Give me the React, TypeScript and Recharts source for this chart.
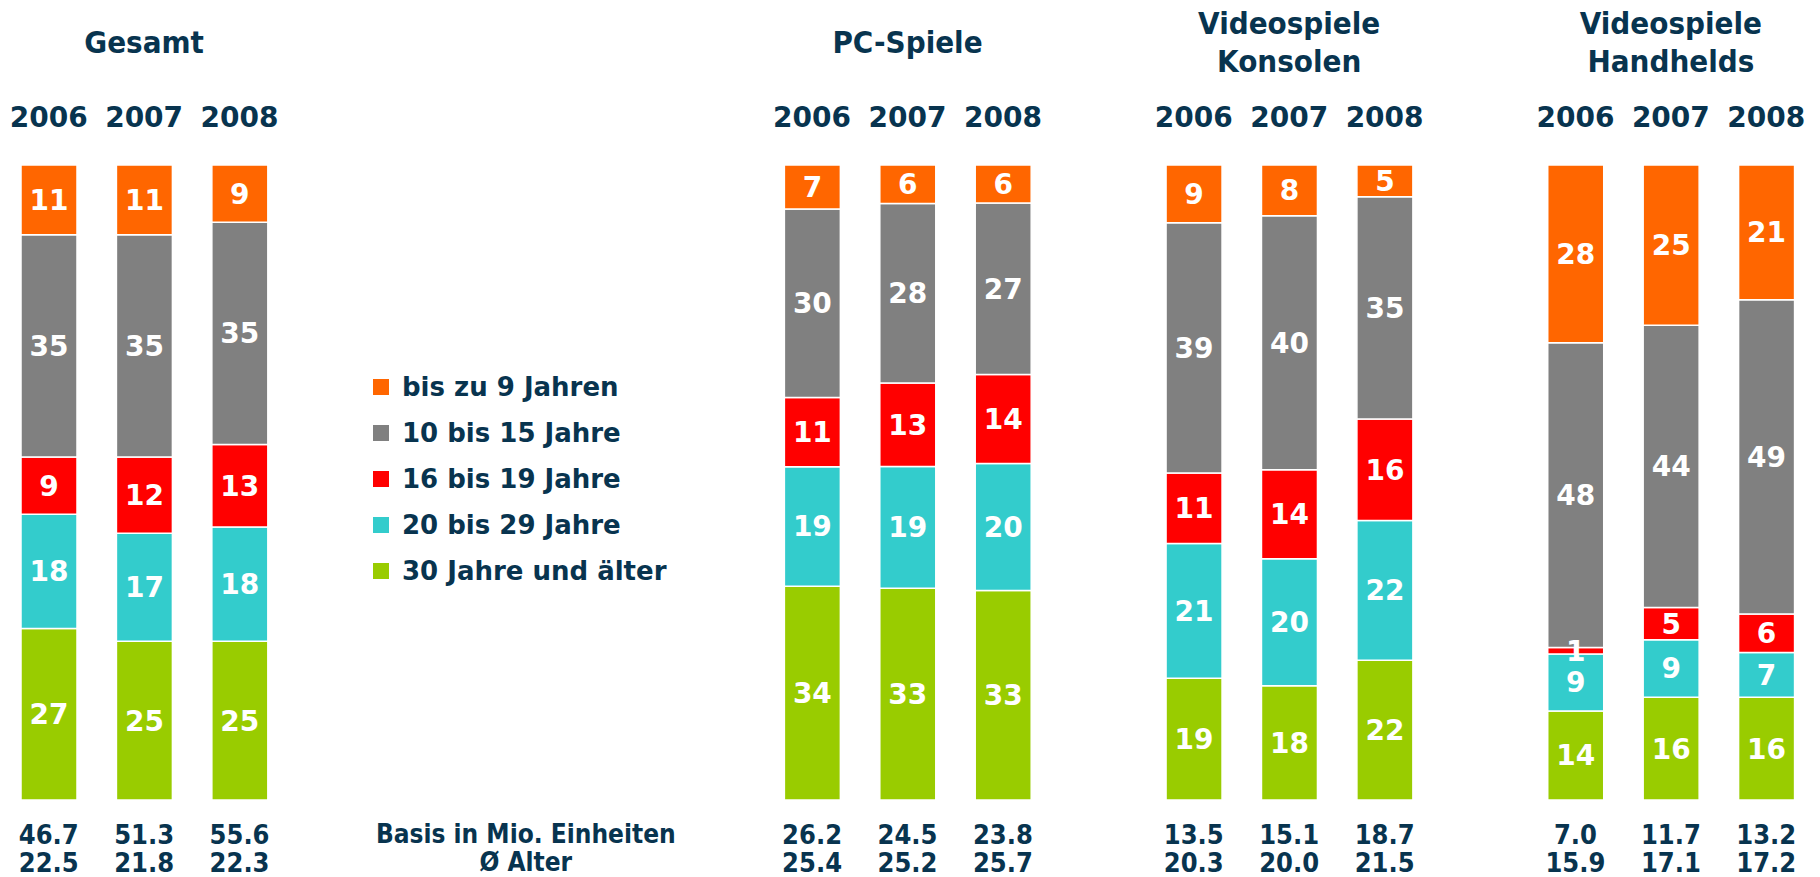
import React from 'react';
import { BarChart, Bar, XAxis, YAxis, LabelList, Legend } from 'recharts';

const NAVY = '#08344f';
const COND = "'DejaVu Sans Condensed', 'DejaVu Sans', sans-serif";
const WIDE = "'DejaVu Sans', sans-serif";

const years = ['2006', '2007', '2008'];
const groupTitles = ['Gesamt', 'PC-Spiele', 'Videospiele\nKonsolen', 'Videospiele\nHandhelds'];
const seriesNames = ['bis zu 9 Jahren', '10 bis 15 Jahre', '16 bis 19 Jahre', '20 bis 29 Jahre', '30 Jahre und älter'];
const seriesColors = ['#FF6600', '#808080', '#FF0000', '#33CCCC', '#99CC00'];

const under9 = [11, 11, 9, 7, 6, 6, 9, 8, 5, 28, 25, 21];
const age10to15 = [35, 35, 35, 30, 28, 27, 39, 40, 35, 48, 44, 49];
const age16to19 = [9, 12, 13, 11, 13, 14, 11, 14, 16, 1, 5, 6];
const age20to29 = [18, 17, 18, 19, 19, 20, 21, 20, 22, 9, 9, 7];
const age30plus = [27, 25, 25, 34, 33, 33, 19, 18, 22, 14, 16, 16];
const basis = [46.7, 51.3, 55.6, 26.2, 24.5, 23.8, 13.5, 15.1, 18.7, 7.0, 11.7, 13.2];
const avgAge = [22.5, 21.8, 22.3, 25.4, 25.2, 25.7, 20.3, 20.0, 21.5, 15.9, 17.1, 17.2];
const basisCaption = ['Basis in Mio. Einheiten', 'Ø Alter'];

const SLOT_COUNT = 19;
const groupStarts = [0, 8, 12, 16];
const captionSlot = 5;

const rows: any[] = Array.from({ length: SLOT_COUNT }, (_, i) => ({ id: `s${i}` }));
groupStarts.forEach((start, g) => {
  years.forEach((yr, j) => {
    const k = g * 3 + j;
    rows[start + j] = {
      id: `s${start + j}`,
      year: yr,
      title: j === 1 ? groupTitles[g] : undefined,
      a: under9[k],
      b: age10to15[k],
      c: age16to19[k],
      d: age20to29[k],
      e: age30plus[k],
      basis: basis[k],
      avg: avgAge[k],
    };
  });
});
rows[captionSlot].caption = basisCaption;
const rowById: Record<string, any> = {};
rows.forEach((r) => (rowById[r.id] = r));

const TopTick = (props: any) => {
  const { x, payload } = props;
  const row = rowById[payload.value];
  if (!row) return null;
  const out: any[] = [];
  if (row.year) {
    out.push(
      <text key="y" x={x} y={117} textAnchor="middle" dominantBaseline="central" fontSize={28} fontWeight="bold" fontFamily={WIDE} fill={NAVY}>
        {row.year}
      </text>
    );
  }
  if (row.title) {
    const lines = row.title.split('\n');
    const ys = lines.length === 1 ? [42] : [23, 61];
    lines.forEach((ln: string, i: number) =>
      out.push(
        <text key={`t${i}`} x={x} y={ys[i]} textAnchor="middle" dominantBaseline="central" fontSize={31} fontWeight="bold" fontFamily={COND} fill={NAVY}>
          {ln}
        </text>
      )
    );
  }
  return <g>{out}</g>;
};

const BottomTick = (props: any) => {
  const { x, payload } = props;
  const row = rowById[payload.value];
  if (!row) return null;
  let lines: string[] | null = null;
  let size = 27;
  if (row.basis != null) lines = [row.basis.toFixed(1), row.avg.toFixed(1)];
  else if (row.caption) {
    lines = row.caption;
    size = 26;
  }
  if (!lines) return null;
  return (
    <g>
      {lines.map((ln, i) => (
        <text key={i} x={x} y={[834, 862][i]} textAnchor="middle" dominantBaseline="central" fontSize={size} fontWeight="bold" fontFamily={COND} fill={NAVY}>
          {ln}
        </text>
      ))}
    </g>
  );
};

const renderLegend = (props: any) => {
  const payload = props.payload || [];
  const items = seriesNames
    .map((n) => payload.find((p: any) => p.value === n))
    .filter(Boolean);
  return (
    <div>
      {items.map((it: any) => (
        <div key={it.value} style={{ height: 46, display: 'flex', alignItems: 'center' }}>
          <span style={{ width: 16, height: 16, background: it.color, display: 'inline-block', marginRight: 13 }} />
          <span style={{ fontFamily: WIDE, fontWeight: 'bold', fontSize: 26, color: NAVY, whiteSpace: 'nowrap' }}>{it.value}</span>
        </div>
      ))}
    </div>
  );
};

const keys = ['e', 'd', 'c', 'b', 'a'];
const keyIndex: Record<string, number> = { a: 0, b: 1, c: 2, d: 3, e: 4 };

export default function App() {
  return (
    <div style={{ position: 'absolute', left: 0, top: 0, width: 1820, height: 877, background: '#fff' }}>
      <BarChart
        width={1820}
        height={877}
        data={rows}
        stackOffset="expand"
        margin={{ top: 0, right: 6, bottom: 0, left: 1 }}
        barCategoryGap={0}
      >
        <XAxis xAxisId="top" orientation="top" dataKey="id" height={165} axisLine={false} tickLine={false} tick={<TopTick />} interval={0} />
        <XAxis xAxisId="bottom" orientation="bottom" dataKey="id" height={77} axisLine={false} tickLine={false} tick={<BottomTick />} interval={0} />
        <YAxis hide domain={[0, 1]} />
        <Legend layout="vertical" align="center" verticalAlign="middle" wrapperStyle={{ left: 373, top: 364, width: 320 }} content={renderLegend} />
        {keys.map((k) => (
          <Bar
            key={k}
            xAxisId="top"
            dataKey={k}
            stackId="s"
            name={seriesNames[keyIndex[k]]}
            fill={seriesColors[keyIndex[k]]}
            stroke="#fff"
            strokeWidth={1.5}
            barSize={56}
            isAnimationActive={false}
          >
            <LabelList dataKey={k} position="center" fill="#fff" fontSize={28} fontWeight="bold" fontFamily={WIDE} />
          </Bar>
        ))}
      </BarChart>
    </div>
  );
}
